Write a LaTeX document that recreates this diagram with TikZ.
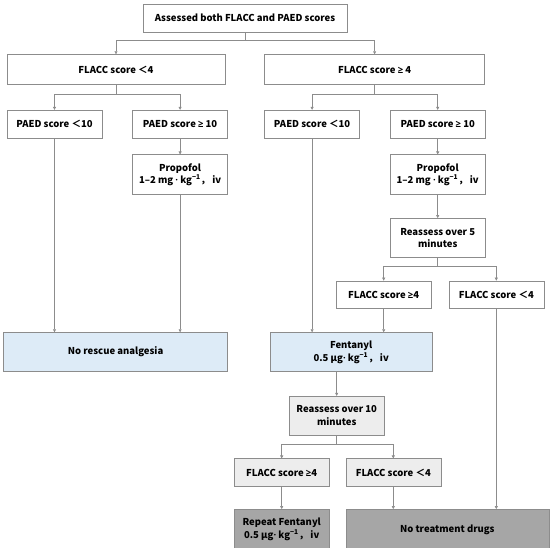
\documentclass[tikz,border=0pt]{standalone}
\usepackage{fontspec}
\setmainfont{Noto Sans CJK SC}
\newfontfamily\symf{Open Sans}
\newcommand{\sge}{{\symf ≥}}
\newcommand{\mdot}{{\symf ·}}
\usepackage{xcolor}
\definecolor{lineg}{HTML}{8C8C8C}
\definecolor{fillblue}{HTML}{DDEBF7}
\definecolor{filllg}{HTML}{EDEDED}
\definecolor{filldg}{HTML}{A6A6A6}
\usepackage{tikz}
\usetikzlibrary{positioning, arrows.meta, calc}

\begin{document}
\begin{tikzpicture}[
  font=\fontsize{9.5}{12.5}\selectfont\bfseries,
  box/.style={draw=lineg, line width=0.6pt, fill=white, inner sep=1pt,
              minimum width=95pt, minimum height=28pt, align=center},
  flow/.style={-{Triangle[length=3pt, width=3pt]}, lineg, line width=0.6pt}
]
  \useasboundingbox (0,0) rectangle (550pt,-548pt);

  \node[box, minimum width=204pt] (ass) at (245pt,-18pt) {Assessed both FLACC and PAED scores};
  \node[box, minimum width=218pt, minimum height=30pt, below=22pt of ass, xshift=-129pt] (fl1) {FLACC score ＜4};
  \node[box, minimum width=220pt, minimum height=30pt, right=39pt of fl1] (fh1) {FLACC score \sge\ 4};

  \node[box, below=25pt of fl1, xshift=-61.5pt] (pl1) {PAED score ＜10};
  \node[box, right=30pt of pl1] (ph1) {PAED score \sge\ 10};
  \node[box, below=25pt of fh1, xshift=-62.5pt] (pl2) {PAED score ＜10};
  \node[box, right=30pt of pl2] (ph2) {PAED score \sge\ 10};

  \node[box, minimum height=40pt, below=16pt of ph1] (pp1) {Propofol\\1–2 mg \mdot\ kg\textsuperscript{−1}， iv};
  \node[box, minimum height=40pt, below=16pt of ph2] (pp2) {Propofol\\1–2 mg \mdot\ kg\textsuperscript{−1}， iv};
  \node[box, minimum height=39pt, below=23pt of pp2] (ra5) {Reassess over 5\\minutes};

  \node[box, minimum height=27pt, below=23pt of ra5, xshift=-54pt] (fh2) {FLACC score \sge4};
  \node[box, minimum height=27pt, right=17pt of fh2] (fl2) {FLACC score ＜4};

  \node[box, fill=fillblue, minimum width=162pt, minimum height=39pt, below=24pt of fh2, xshift=-32.5pt] (fen) {Fentanyl\\0.5 µg\mdot\ kg\textsuperscript{−1}， iv};
  \node[box, fill=fillblue, minimum width=224pt, minimum height=39pt, left=42pt of fen] (nra) {No rescue analgesia};

  \node[box, fill=filllg, minimum height=39pt, below=24pt of fen, xshift=-14.5pt] (ra10) {Reassess over 10\\minutes};
  \node[box, fill=filllg, below=23pt of ra10, xshift=-55pt] (fh3) {FLACC score \sge4};
  \node[box, fill=filllg, right=16pt of fh3] (fl3) {FLACC score ＜4};

  \node[box, fill=filldg, minimum height=40pt, below=22pt of fh3] (rfe) {Repeat Fentanyl\\0.5 µg\mdot\ kg\textsuperscript{−1}， iv};
  \node[box, fill=filldg, minimum width=203pt, minimum height=40pt, below=22pt of fl3, xshift=54pt] (ntd) {No treatment drugs};

  % branches
  \draw[flow] (ass.south) -- ++(0,-8pt) -| (fl1.north);
  \draw[flow] (ass.south) -- ++(0,-8pt) -| (fh1.north);
  \draw[flow] (fl1.south) -- ++(0,-9pt) -| (pl1.north);
  \draw[flow] (fl1.south) -- ++(0,-9pt) -| (ph1.north);
  \draw[flow] (fh1.south) -- ++(0,-9pt) -| (pl2.north);
  \draw[flow] (fh1.south) -- ++(0,-9pt) -| (ph2.north);
  \draw[flow] (ra5.south) -- ++(0,-9pt) -| (fh2.north);
  \draw[flow] (ra5.south) -- ++(0,-9pt) -| (fl2.north);
  \draw[flow] (ra10.south) -- ++(0,-9pt) -| (fh3.north);
  \draw[flow] (ra10.south) -- ++(0,-9pt) -| (fl3.north);

  % straight runs
  \draw[flow] (ph1) -- (pp1);
  \draw[flow] (ph2) -- (pp2);
  \draw[flow] (pp2) -- (ra5);
  \draw[flow] (pl1.south) -- (pl1.south |- nra.north);
  \draw[flow] (pp1.south) -- (pp1.south |- nra.north);
  \draw[flow] (pl2.south) -- (pl2.south |- fen.north);
  \draw[flow] (fh2.south) -- (fh2.south |- fen.north);
  \draw[flow] (fen.south -| ra10.north) -- (ra10.north);
  \draw[flow] (fh3) -- (rfe);
  \draw[flow] (fl3.south) -- (fl3.south |- ntd.north);
  \draw[flow] (fl2.south) -- (fl2.south |- ntd.north);
\end{tikzpicture}
\end{document}
